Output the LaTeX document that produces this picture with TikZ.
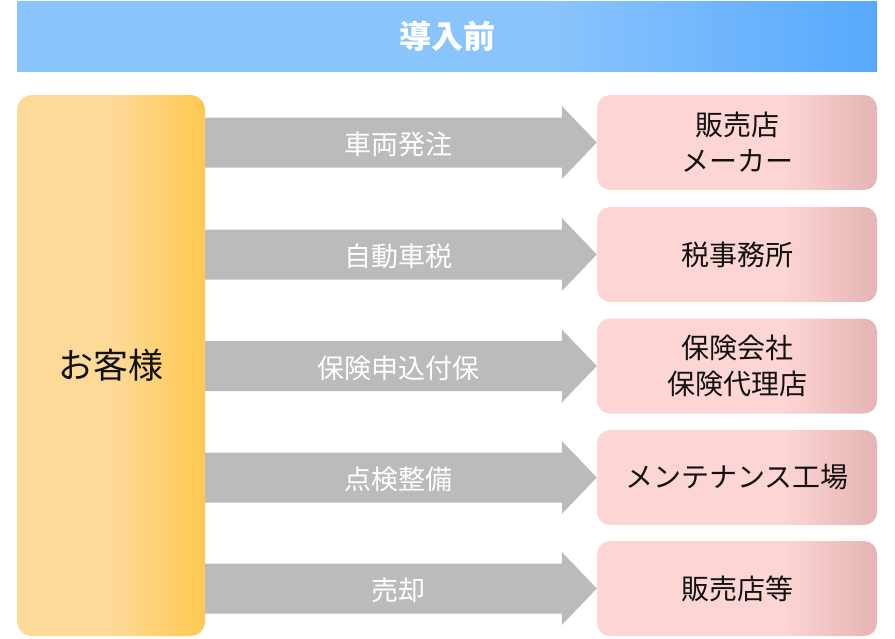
\documentclass[tikz,border=0pt]{standalone}
\usepackage{fontspec}
\newfontfamily\jp{Noto Sans CJK JP}
\usetikzlibrary{calc}
\definecolor{hA}{HTML}{8AC4FD}
\definecolor{hB}{HTML}{57A9FD}
\definecolor{cA}{HTML}{FDDA98}
\definecolor{cB}{HTML}{FEC850}
\definecolor{pA}{HTML}{FDD5D5}
\definecolor{pB}{HTML}{E5B4B4}
\definecolor{arrgray}{HTML}{BBBBBB}
\definecolor{txt}{HTML}{111111}
\pgfdeclarehorizontalshading{hdrshade}{100bp}{color(0bp)=(hA); color(56bp)=(hA); color(75bp)=(hB); color(100bp)=(hB)}
\pgfdeclarehorizontalshading{custshade}{100bp}{color(0bp)=(cA); color(50bp)=(cA); color(75bp)=(cB); color(100bp)=(cB)}
\pgfdeclarehorizontalshading{pinkshade}{100bp}{color(0bp)=(pA); color(58bp)=(pA); color(75bp)=(pB); color(100bp)=(pB)}
\tikzset{
  hdr/.style={shade, shading=hdrshade, minimum width=860pt, minimum height=70pt, inner sep=0pt,
    font=\jp\bfseries\fontsize{32}{36}\selectfont, text=white},
  custbox/.style={shade, shading=custshade, rounded corners=15pt, minimum width=188pt, minimum height=541pt, inner sep=0pt,
    font=\jp\fontsize{35}{40}\selectfont, text=txt},
  destbox/.style={shade, shading=pinkshade, rounded corners=13pt, minimum width=280pt, minimum height=95pt, inner sep=0pt,
    font=\jp\fontsize{28}{36}\selectfont, text=txt, align=center},
  arr/.style={fill=arrgray},
  arrlabel/.style={font=\jp\fontsize{27}{30}\selectfont, text=white, inner sep=0pt}
}
\begin{document}
\begin{tikzpicture}[x=1pt,y=-1pt]
\useasboundingbox (0,0) rectangle (895,638);
\node[hdr] (header) at (447,36) {導入前};
\node[custbox] (cust) at (111,365.5) {お客様};
\node[destbox] (r1) at (737,142.5) {販売店\\メーカー};
\node[destbox] (r2) at (737,254.5) {税事務所};
\node[destbox] (r3) at (737,366) {保険会社\\保険代理店};
\node[destbox] (r4) at (737,477.5) {メンテナンス工場};
\node[destbox] (r5) at (737,588.5) {販売店等};
\foreach \i/\lab in {1/車両発注,2/自動車税,3/保険申込付保,4/点検整備,5/売却} {
  \coordinate (s\i) at (cust.east |- r\i.west);
  \fill[arr] ([yshift=25pt]s\i) -- ([xshift=-35pt,yshift=25pt]r\i.west) -- ([xshift=-35pt,yshift=36.5pt]r\i.west)
    -- (r\i.west) -- ([xshift=-35pt,yshift=-36.5pt]r\i.west) -- ([xshift=-35pt,yshift=-25pt]r\i.west)
    -- ([yshift=-25pt]s\i) -- cycle;
  \node[arrlabel] (l\i) at ($(s\i)+(193,2)$) {\lab};
}
\end{tikzpicture}
\end{document}
